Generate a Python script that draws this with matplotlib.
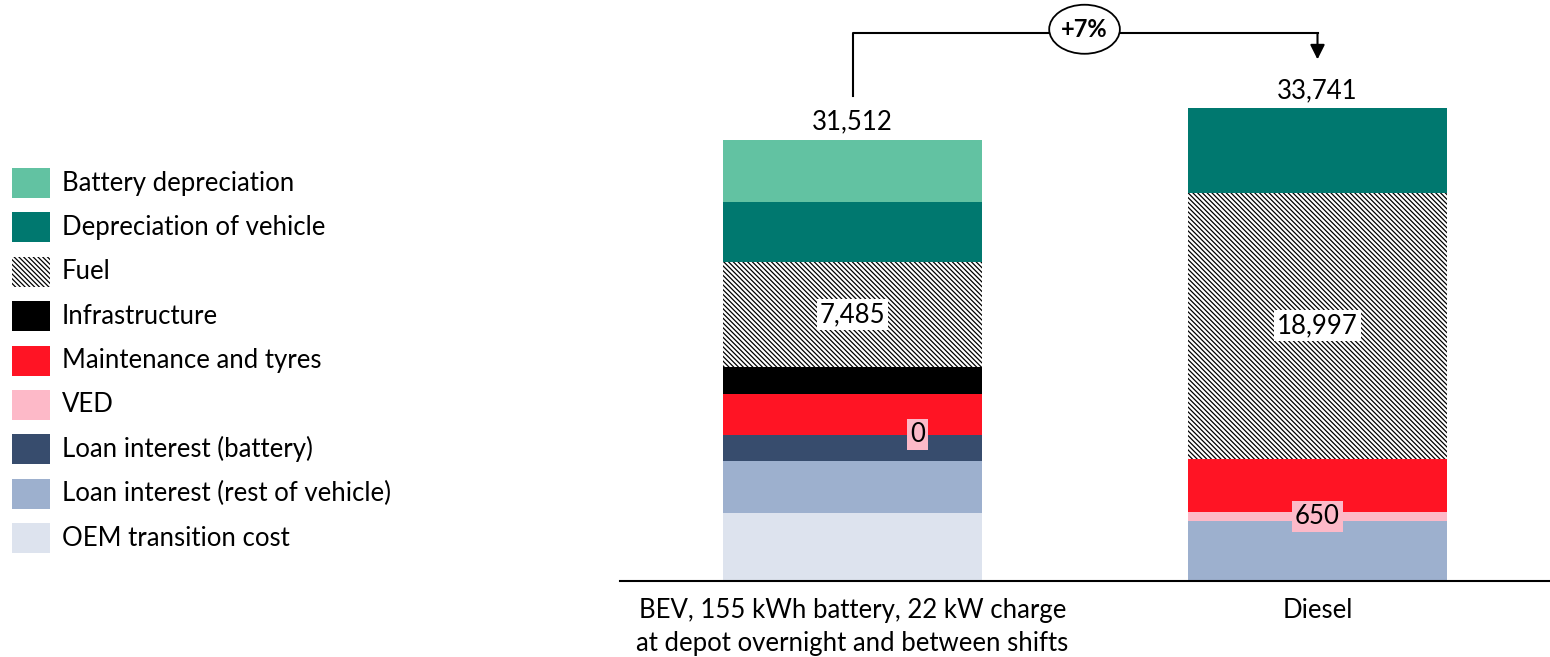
import matplotlib
matplotlib.use("Agg")
import matplotlib.pyplot as plt
from matplotlib.patches import Rectangle, Ellipse
import numpy as np

plt.rcParams['font.family'] = ['Lato', 'DejaVu Sans']
plt.rcParams['hatch.linewidth'] = 0.9

categories = ['BEV, 155 kWh battery, 22 kW charge\nat depot overnight and between shifts', 'Diesel']
components = ['OEM transition cost', 'Loan interest (rest of vehicle)', 'Loan interest (battery)',
              'VED', 'Maintenance and tyres', 'Infrastructure', 'Fuel',
              'Depreciation of vehicle', 'Battery depreciation']
bev_values = [4860, 3716, 1860, 0, 2930, 1930, 7485, 4290, 4441]
diesel_values = [0, 4288, 0, 650, 3787, 0, 18997, 6019, 0]
totals = [31512, 33741]
change_label = '+7%'

colors = {
    'OEM transition cost': '#DDE3EE',
    'Loan interest (rest of vehicle)': '#9DB0CE',
    'Loan interest (battery)': '#374C6D',
    'VED': '#FDB9C8',
    'Maintenance and tyres': '#FF1424',
    'Infrastructure': '#000000',
    'Fuel': '#FFFFFF',
    'Depreciation of vehicle': '#00786F',
    'Battery depreciation': '#62C2A2',
}
FUEL_HATCH = '\\\\\\\\\\\\\\'
FS = 18.5

fig = plt.figure(figsize=(15.5, 6.57), dpi=100)
ax = fig.add_axes([0.4, 0.1157, 0.6, 0.8843])

x = np.arange(len(categories))
width = 0.557
bottoms = np.zeros(2)
data = np.array([bev_values, diesel_values])
for i, comp in enumerate(components):
    vals = data[:, i]
    hatch = FUEL_HATCH if comp == 'Fuel' else None
    ax.bar(x, vals, width, bottom=bottoms, color=colors[comp], hatch=hatch,
           edgecolor='black' if comp == 'Fuel' else colors[comp], linewidth=0)
    if comp == 'Fuel':
        for j in range(2):
            ax.text(x[j], bottoms[j] + vals[j] / 2, f'{vals[j]:,}', ha='center', va='center',
                    fontsize=FS, bbox=dict(boxstyle='square,pad=0.12', fc='white', ec='none'))
    if comp == 'VED':
        offs = [0.14, 0.0]
        for j in range(2):
            ax.text(x[j] + offs[j], bottoms[j] + vals[j] / 2, f'{vals[j]:,}', ha='center', va='center',
                    fontsize=FS, bbox=dict(boxstyle='square,pad=0.12', fc=colors['VED'], ec='none'))
    bottoms += vals

for j in range(2):
    ax.annotate(f'{totals[j]:,}', (x[j], totals[j]), xytext=(0, 4), textcoords='offset points',
                ha='center', va='bottom', fontsize=FS)

# bracket with percentage change
top = max(totals)
y_line = top + 5400
ax.plot([x[0], x[0], x[1], x[1]], [totals[0] + 3100, y_line, y_line, y_line],
        color='black', lw=1.5, clip_on=False)
ax.annotate('', xy=(x[1], top + 3300), xytext=(x[1], y_line + 100),
            arrowprops=dict(arrowstyle='-|>', color='black', lw=1.5, mutation_scale=22))
ax.add_patch(Ellipse((0.499, y_line + 250), 0.152, 3500, fc='white', ec='black', lw=1.3,
                     zorder=5, clip_on=False))
ax.text(0.499, y_line + 250, change_label, ha='center', va='center', fontsize=17, fontweight='bold', zorder=6)

ax.set_xlim(-0.5, 1.5)
ax.set_ylim(0, 41480)
ax.set_xticks(x)
ax.set_xticklabels(categories, fontsize=FS, linespacing=1.4)
ax.tick_params(axis='x', length=0, pad=12)
ax.set_yticks([])
for s in ['top', 'right', 'left']:
    ax.spines[s].set_visible(False)
ax.spines['bottom'].set_linewidth(1.5)

# legend drawn by hand (top entry first)
W, H = 1550, 657
for k, comp in enumerate(components[::-1]):
    yc = 183 + 44.4 * k
    fig.add_artist(Rectangle((12 / W, (H - yc - 15) / H), 38 / W, 30 / H, transform=fig.transFigure,
                             facecolor=colors[comp], edgecolor='black' if comp == 'Fuel' else colors[comp],
                             hatch=FUEL_HATCH if comp == 'Fuel' else None, linewidth=0))
    fig.text(62 / W, (H - yc) / H, comp, ha='left', va='center', fontsize=FS)

fig.savefig('out.png', dpi=100)
